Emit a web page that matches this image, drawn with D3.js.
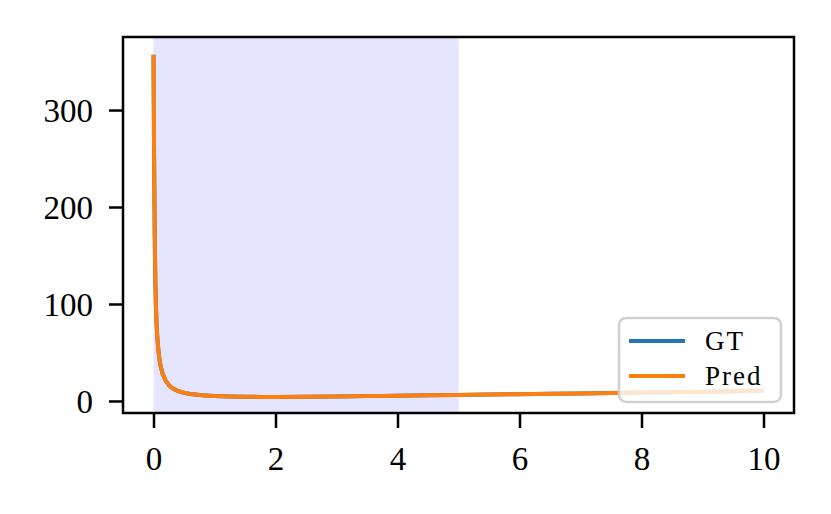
<!DOCTYPE html>
<html>
<head>
<meta charset="utf-8">
<script src="https://cdn.jsdelivr.net/npm/d3@7"></script>
<style>
  html, body { margin: 0; padding: 0; background: #fff; }
  svg text { font-family: "Liberation Serif", "DejaVu Serif", serif; }
</style>
</head>
<body>
<svg id="chart" width="831" height="514"></svg>
<script>
// ---- data ----
const xValues = [0, 0.01, 0.02, 0.03, 0.04, 0.05, 0.06, 0.08, 0.1, 0.12, 0.15, 0.2, 0.25, 0.3, 0.4, 0.5, 0.6, 0.8, 1.0, 1.25, 1.5, 1.75, 2, 2.5, 3, 3.5, 4, 4.5, 5, 5.5, 6, 6.5, 7, 7.5, 8, 8.5, 9, 9.5, 10];
const gtValues = [357, 250, 170, 125, 98, 80, 68, 52, 42, 35, 28, 21, 16.5, 13.5, 10.3, 8.4, 7.2, 5.9, 5.1, 4.6, 4.3, 4.2, 4.2, 4.4, 4.7, 5.0, 5.4, 5.8, 6.2, 6.6, 7.0, 7.4, 7.8, 8.2, 8.7, 9.1, 9.6, 10.0, 10.5];
const predValues = [357, 250, 170, 125, 98, 80, 68, 52, 42, 35, 28, 21, 16.5, 13.5, 10.3, 8.4, 7.2, 5.9, 5.1, 4.6, 4.3, 4.2, 4.2, 4.4, 4.7, 5.0, 5.4, 5.8, 6.2, 6.6, 7.0, 7.4, 7.8, 8.2, 8.7, 9.1, 9.6, 10.0, 10.5];
const xTicks = [0, 2, 4, 6, 8, 10];
const yTicks = [0, 100, 200, 300];
const shadeRange = [0, 5];
const seriesNames = ["GT", "Pred"];
const seriesColors = ["#1f77b4", "#ff7f0e"];

// ---- layout ----
const svg = d3.select("#chart");
const L = 123, R = 794, T = 37, B = 413;

const x = d3.scaleLinear().domain([-0.5, 10.5]).range([L, R]);
const y = d3.scaleLinear().domain([-12.4, 375.3]).range([B, T]);

// shaded region
svg.append("rect")
  .attr("x", x(shadeRange[0]))
  .attr("y", T)
  .attr("width", x(shadeRange[1]) - x(shadeRange[0]))
  .attr("height", B - T)
  .attr("fill", "rgba(0,0,255,0.1)");

// lines
const line = d3.line().x(d => x(d[0])).y(d => y(d[1]));
[gtValues, predValues].forEach((vals, i) => {
  svg.append("path")
    .datum(xValues.map((xv, j) => [xv, vals[j]]))
    .attr("d", line)
    .attr("fill", "none")
    .attr("stroke", seriesColors[i])
    .attr("stroke-width", 4)
    .attr("stroke-linejoin", "round");
});

// axes
const xAxis = d3.axisBottom(x).tickValues(xTicks).tickSize(15).tickFormat(d3.format("d"));
const yAxis = d3.axisLeft(y).tickValues(yTicks).tickSize(14).tickPadding(16).tickFormat(d3.format("d"));

const gx = svg.append("g").attr("transform", `translate(0,${B})`).call(xAxis);
const gy = svg.append("g").attr("transform", `translate(${L},0)`).call(yAxis);
[gx, gy].forEach(g => {
  g.select(".domain").remove();
  g.selectAll(".tick line").attr("stroke", "#000").attr("stroke-width", 2.5);
  g.selectAll(".tick text").attr("fill", "#000").style("font-size", "33px")
    .style("font-family", '"Liberation Serif", "DejaVu Serif", serif');
});
gx.selectAll(".tick text").attr("y", 57).attr("dy", 0);
gy.selectAll(".tick text").attr("dy", "0.34em");

// frame
svg.append("rect")
  .attr("x", L).attr("y", T)
  .attr("width", R - L).attr("height", B - T)
  .attr("fill", "none").attr("stroke", "#000").attr("stroke-width", 2.5);

// legend
const lg = svg.append("g");
lg.append("rect")
  .attr("x", 619).attr("y", 318).attr("width", 162).attr("height", 84)
  .attr("rx", 7).attr("ry", 7)
  .attr("fill", "rgba(255,255,255,0.8)")
  .attr("stroke", "#d0d0d0").attr("stroke-width", 2.5);
seriesNames.forEach((name, i) => {
  const yy = 341 + i * 35;
  lg.append("line")
    .attr("x1", 629).attr("x2", 685).attr("y1", yy).attr("y2", yy)
    .attr("stroke", seriesColors[i]).attr("stroke-width", 4);
  lg.append("text")
    .attr("x", 705).attr("y", yy + 9)
    .style("font-size", "27px")
    .style("letter-spacing", "2px")
    .attr("fill", "#000")
    .text(name);
});
</script>
</body>
</html>
